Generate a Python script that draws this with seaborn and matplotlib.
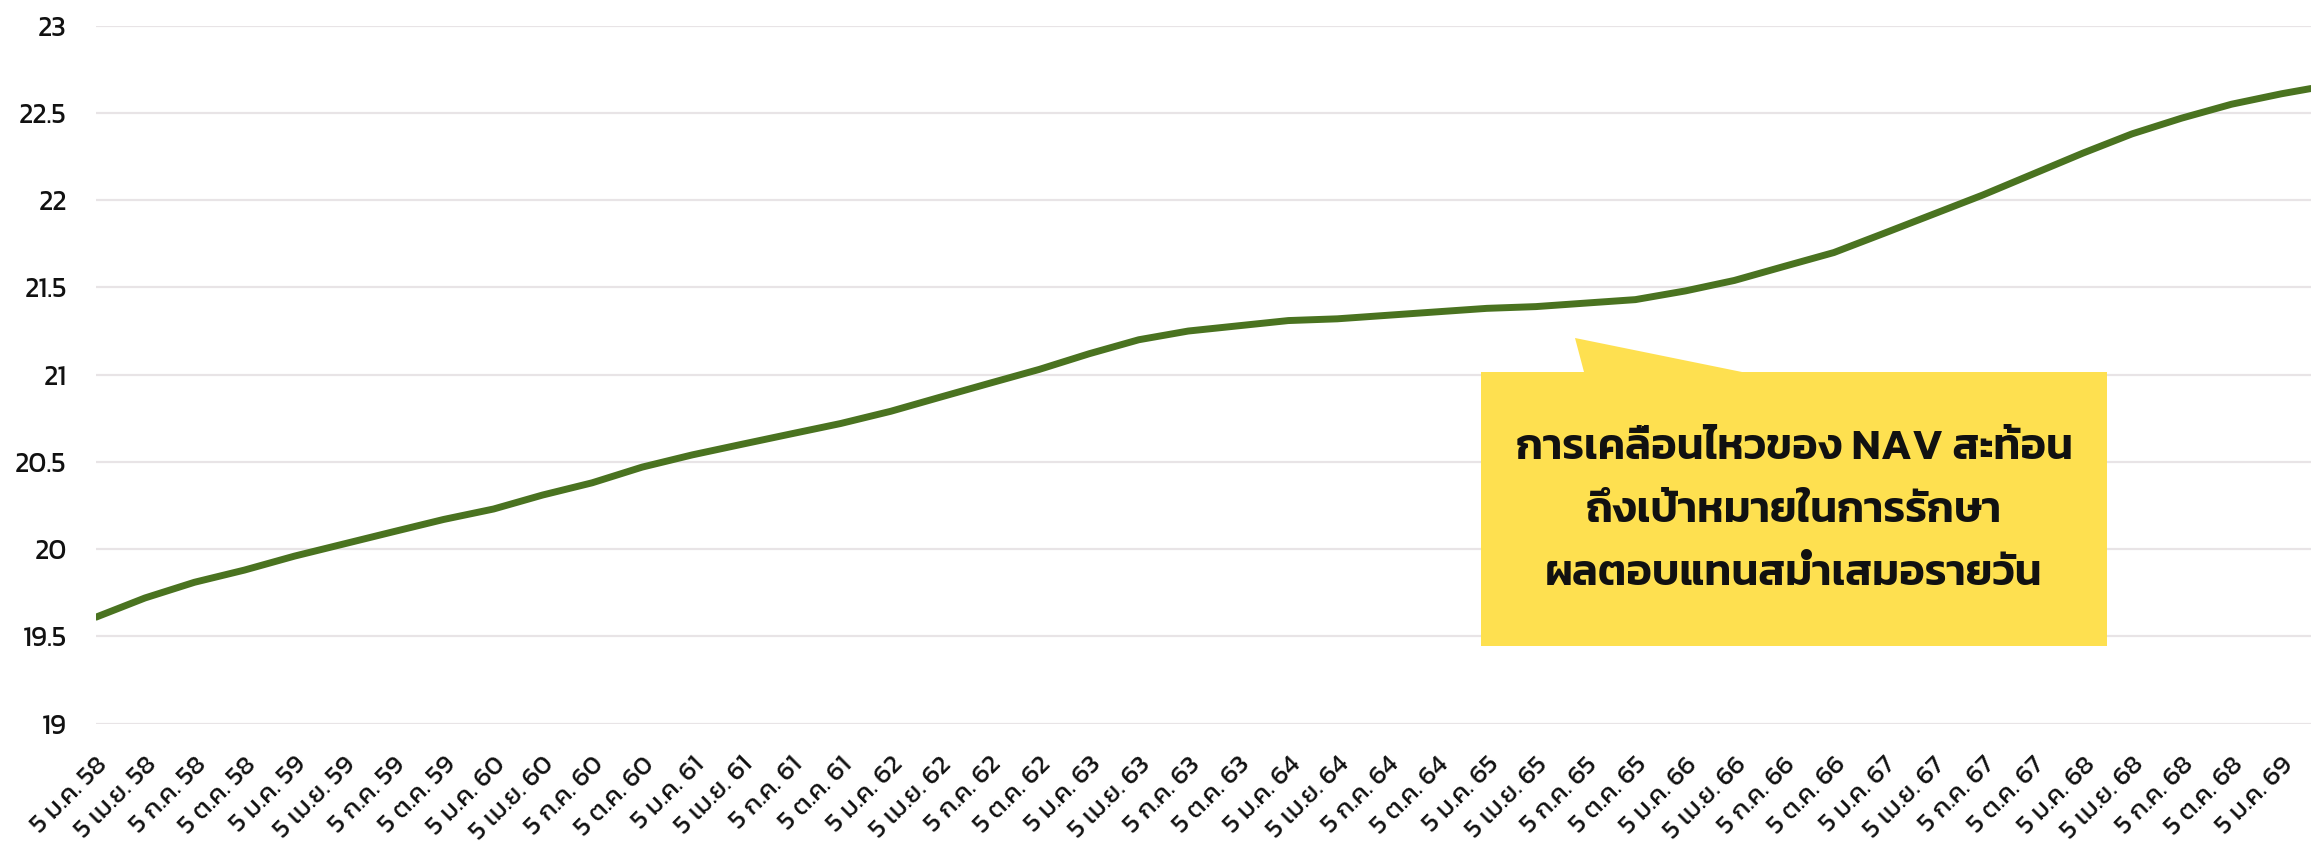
import pandas as pd
import matplotlib
matplotlib.use("Agg")
import matplotlib.pyplot as plt
import seaborn as sns
from matplotlib import font_manager
from matplotlib.ft2font import FT2Font
from matplotlib.patches import Polygon

# quarterly NAV readings, 5 ม.ค. 58 .. 5 ม.ค. 69, plus the last reading (late Feb 69)
quarter_dates = list(pd.date_range("2015-01-05", "2026-01-05", freq=pd.DateOffset(months=3)))
last_date = pd.Timestamp("2026-02-28")
nav = [19.61, 19.72, 19.81, 19.88, 19.96, 20.03, 20.10, 20.17, 20.23, 20.31,
       20.38, 20.47, 20.54, 20.60, 20.66, 20.72, 20.79, 20.87, 20.95, 21.03,
       21.12, 21.20, 21.25, 21.28, 21.31, 21.32, 21.34, 21.36, 21.38, 21.39,
       21.41, 21.43, 21.48, 21.54, 21.62, 21.70, 21.81, 21.92, 22.03, 22.15,
       22.27, 22.38, 22.47, 22.55, 22.61, 22.64]

months_th = ["ม.ค.", "เม.ย.", "ก.ค.", "ต.ค."]
years_th = ["58", "59", "60", "61", "62", "63", "64", "65", "66", "67", "68", "69"]
tick_labels = [f"5 {m} {y}" for y in years_th for m in months_th][:45]

y_ticks = [19, 19.5, 20, 20.5, 21, 21.5, 22, 22.5, 23]
y_labels = ["19", "19.5", "20", "20.5", "21", "21.5", "22", "22.5", "23"]

note = "การเคลื่อนไหวของ NAV สะท้อน\nถึงเป้าหมายในการรักษา\nผลตอบแทนสม่ำเสมอรายวัน"


def find_thai_font():
    """Pick an installed family that has Thai glyphs."""
    preferred = ["Kanit", "Prompt", "Mitr", "Noto Sans Thai", "Noto Sans Thai Looped",
                 "Noto Looped Thai", "Sarabun", "Loma", "Garuda", "Umpush", "Waree",
                 "Tlwg Typo", "Norasi"]
    names = {f.name for f in font_manager.fontManager.ttflist}
    for p in preferred:
        if p in names:
            return p
    for f in font_manager.fontManager.ttflist:
        try:
            if 0x0E01 in FT2Font(f.fname).get_charmap():
                return f.name
        except Exception:
            pass
    return "DejaVu Sans"


sns.set_style("white")
thai_font = find_thai_font()
plt.rcParams["font.family"] = [thai_font, "DejaVu Sans"]

df = pd.DataFrame({"date": quarter_dates + [last_date], "nav": nav})

fig = plt.figure(figsize=(23.11, 8.44), dpi=100)
ax = fig.add_axes([96 / 2311, 1 - 723.6 / 844, 1 - 96 / 2311, (723.6 - 25.7) / 844])

sns.lineplot(data=df, x="date", y="nav", ax=ax, color="#4A7320", linewidth=5.0)

ax.set_ylim(19, 23)
ax.set_xlim(df["date"].iloc[0], df["date"].iloc[-1])
ax.tick_params(axis="y", length=0, pad=21)
ax.tick_params(axis="x", length=0, pad=21)
ax.set_yticks(y_ticks)
ax.set_yticklabels(y_labels, fontsize=20, color="#111111")
ax.set_xticks(quarter_dates)
ax.set_xticklabels(tick_labels, fontsize=19, color="#111111")
for lab in ax.get_xticklabels():
    lab.set_rotation(45)
    lab.set_rotation_mode("anchor")
    lab.set_horizontalalignment("right")
    lab.set_verticalalignment("top")
ax.set_xlabel("")
ax.set_ylabel("")
ax.grid(axis="y", color="#E8E4E6", linewidth=1.6)
ax.grid(axis="x", visible=False)
for s in ax.spines.values():
    s.set_visible(False)

# yellow call-out box with a pointer toward the flat part of the line
W, H = 2311, 844
pts = [(1481, 372), (1584, 372), (1575, 338), (1742, 372), (2107, 372),
       (2107, 646), (1481, 646)]
box = Polygon([(x / W, 1 - y / H) for x, y in pts], closed=True,
              transform=fig.transFigure, facecolor="#FEE050", edgecolor="none", zorder=5)
fig.patches.append(box)
fig.text(1794 / W, 1 - 512 / H, note, ha="center", va="center", fontsize=31,
         linespacing=1.85, color="#111111", zorder=6, fontweight="semibold")

fig.savefig("out.png", dpi=100)
